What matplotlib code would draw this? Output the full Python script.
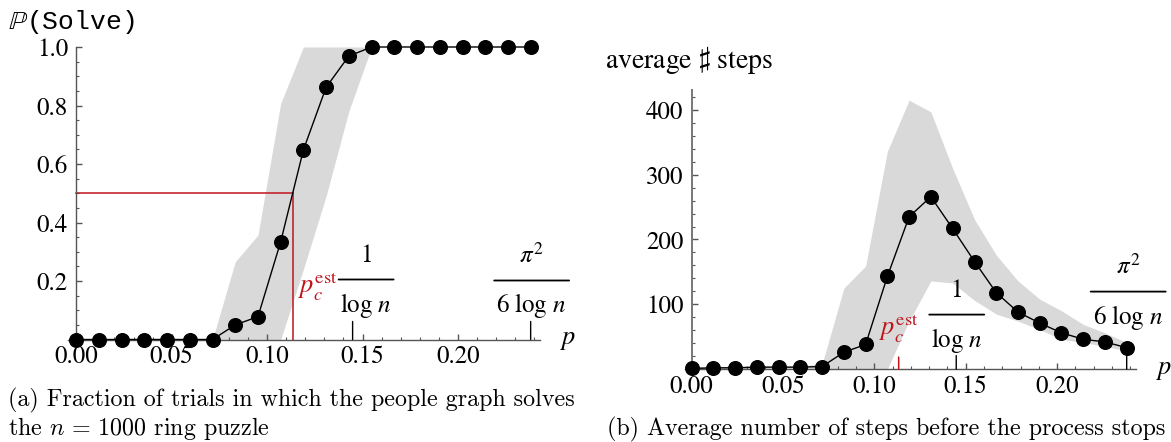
import matplotlib
matplotlib.use("Agg")
import matplotlib.pyplot as plt
import matplotlib.transforms as mtransforms
from matplotlib.ticker import MultipleLocator, FixedLocator, FuncFormatter

plt.rcParams['font.family'] = 'STIXGeneral'
plt.rcParams['mathtext.fontset'] = 'stix'

# ring puzzle, n = 1000
p_inv_log = 0.1448      # 1 / log n
p_pi_log = 0.2381       # pi^2 / (6 log n)
p_c_est = 0.1133

p_vals = [0.0000, 0.0119, 0.0238, 0.0357, 0.0476, 0.0595, 0.0714, 0.0833,
          0.0952, 0.1071, 0.1190, 0.1309, 0.1428, 0.1548, 0.1667, 0.1786,
          0.1905, 0.2024, 0.2143, 0.2262, 0.2381]

# (a) probability of solving
solve_mean = [0, 0, 0, 0, 0, 0, 0, 0.050, 0.078, 0.334, 0.648, 0.862, 0.969,
              1, 1, 1, 1, 1, 1, 1, 1]
solve_low = [0, 0, 0, 0, 0, 0, 0, 0, 0, 0, 0.24, 0.49, 0.78,
             1, 1, 1, 1, 1, 1, 1, 1]
solve_high = [0, 0, 0, 0, 0, 0, 0, 0.266, 0.357, 0.807, 1, 1, 1,
              1, 1, 1, 1, 1, 1, 1, 1]

# (b) average number of steps
steps_mean = [1, 2, 2, 3, 3, 3, 4, 26, 38, 143, 235, 266, 217, 166, 118,
              88, 71, 56, 46, 42, 33]
steps_low = [0, 0, 0, 0, 0, 0, 0, 0, 0, 0, 74, 136, 133, 106, 85, 74, 61,
             46, 41, 35, 28]
steps_high = [3, 4, 4, 5, 5, 5, 8, 125, 159, 336, 415, 397, 310, 231, 176,
              136, 108, 90, 69, 56, 41]

x_major = [0.00, 0.05, 0.10, 0.15, 0.20]
x_labels = ['0.00', '0.05', '0.10', '0.15', '0.20']

W, H = 1171, 442
RED = '#c0141c'
BAND = '#d9d9d9'
AXC = '#555555'

fig = plt.figure(figsize=(W / 100, H / 100), dpi=100)


def px_axes(x0, x1, y0, y1):
    return fig.add_axes([x0 / W, 1 - y1 / H, (x1 - x0) / W, (y1 - y0) / H])


def style_axes(ax):
    for s in ('top', 'right'):
        ax.spines[s].set_visible(False)
    ax.spines['left'].set_position(('data', 0))
    for s in ('left', 'bottom'):
        ax.spines[s].set_color(AXC)
        ax.spines[s].set_linewidth(1.0)
    ax.xaxis.set_major_locator(FixedLocator(x_major))
    ax.set_xticklabels(x_labels)
    ax.xaxis.set_minor_locator(MultipleLocator(0.01))
    ax.tick_params(which='both', direction='in', colors=AXC, labelcolor='black',
                   labelsize=18)
    ax.tick_params(which='major', length=4, width=1)
    ax.tick_params(which='minor', length=2.3, width=0.8)
    ax.tick_params(axis='y', pad=6)
    ax.tick_params(axis='x', pad=4)
    ax.set_facecolor('none')


def tick_mark(ax, x, length, color='black', lw=1.0):
    ax.annotate('', xy=(x, 0), xycoords=ax.get_xaxis_transform(),
                xytext=(0, length), textcoords='offset pixels',
                arrowprops=dict(arrowstyle='-', lw=lw, color=color,
                                shrinkA=0, shrinkB=0),
                annotation_clip=False)


def fraction(ax, x, num, den, bar_dy, halfw, dx=0):
    base = ax.get_xaxis_transform()
    for txt, dy in ((num, bar_dy + 17.5), (den, bar_dy - 32)):
        ax.annotate(txt, xy=(x, 0), xycoords=base, xytext=(dx, dy),
                    textcoords='offset pixels', ha='center', va='baseline',
                    fontsize=18, annotation_clip=False)

    def shifted(px):
        return base + mtransforms.ScaledTranslation(px / fig.dpi, bar_dy / fig.dpi,
                                                    fig.dpi_scale_trans)
    ax.annotate('', xy=(x, 0), xycoords=shifted(dx + halfw),
                xytext=(x, 0), textcoords=shifted(dx - halfw),
                arrowprops=dict(arrowstyle='-', lw=1.3, color='black',
                                shrinkA=0, shrinkB=0),
                annotation_clip=False)


def p_label(ax):
    ax.annotate('$p$', xy=(1, 0), xycoords='axes fraction', xytext=(20, -5),
                textcoords='offset pixels', ha='left', va='baseline',
                fontsize=19, annotation_clip=False)


# ---------------- (a) ----------------
ax1 = px_axes(68, 540, 47, 339.5)
ax1.set_xlim(-0.00435, 0.2430)
ax1.set_ylim(0, 1.0)
style_axes(ax1)
ax1.yaxis.set_major_locator(FixedLocator([0.2, 0.4, 0.6, 0.8, 1.0]))
ax1.yaxis.set_major_formatter(FuncFormatter(lambda v, i: f'{v:.1f}'))
ax1.yaxis.set_minor_locator(MultipleLocator(0.05))

ax1.fill_between(p_vals, solve_low, solve_high, color=BAND, lw=0, zorder=1)
ax1.plot([0, p_c_est], [0.5, 0.5], color=RED, lw=1.1, zorder=2)
ax1.plot([p_c_est, p_c_est], [0, 0.5], color=RED, lw=1.1, zorder=2)
ax1.plot(p_vals, solve_mean, color='black', lw=1.0, marker='o', ms=9.8,
         mfc='black', mec='black', clip_on=False, zorder=3)

tick_mark(ax1, p_inv_log, 18)
tick_mark(ax1, p_pi_log, 18)
fraction(ax1, p_inv_log, '1', r'$\log\,n$', 60, 27.5, dx=13.5)
fraction(ax1, p_pi_log, r'$\pi^2$', r'$6\ \log\,n$', 59, 37.5, dx=1)
ax1.annotate(r'$p_c^{\mathrm{est}}$', xy=(p_c_est, 0), xycoords=ax1.get_xaxis_transform(),
             xytext=(5, 46.5), textcoords='offset pixels', ha='left', va='baseline',
             fontsize=19, color=RED, annotation_clip=False)
p_label(ax1)

# ---------------- (b) ----------------
ax2 = px_axes(685, 1136, 90, 369.1)
ax2.set_xlim(-0.00367, 0.2432)
ax2.set_ylim(0, 430.7)
style_axes(ax2)
ax2.spines['left'].set_color('#777777')
ax2.spines['left'].set_linewidth(1.4)
ax2.yaxis.set_major_locator(FixedLocator([100, 200, 300, 400]))
ax2.yaxis.set_major_formatter(FuncFormatter(lambda v, i: f'{v:.0f}'))
ax2.yaxis.set_minor_locator(MultipleLocator(20))

ax2.fill_between(p_vals, steps_low, steps_high, color=BAND, lw=0, zorder=1)
ax2.plot(p_vals, steps_mean, color='black', lw=1.0, marker='o', ms=9.8,
         mfc='black', mec='black', clip_on=False, zorder=3)

tick_mark(ax2, p_c_est, 12, color=RED, lw=1.1)
tick_mark(ax2, p_inv_log, 13.5)
tick_mark(ax2, p_pi_log, 13.5)
fraction(ax2, p_inv_log, '1', r'$\log\,n$', 54.5, 27.5, dx=0.5)
fraction(ax2, p_pi_log, r'$\pi^2$', r'$6\ \log\,n$', 77.5, 37.5, dx=1.5)
ax2.annotate(r'$p_c^{\mathrm{est}}$', xy=(p_c_est, 0), xycoords=ax2.get_xaxis_transform(),
             xytext=(0, 34.5), textcoords='offset pixels', ha='center', va='baseline',
             fontsize=19, color=RED, annotation_clip=False)
p_label(ax2)

# ---------------- titles / captions ----------------
fig.text(8 / W, 1 - 28.5 / H, r'$\mathbb{P}$(Solve)', family='Liberation Mono',
         fontsize=19, va='baseline')
fig.text(605 / W, 1 - 68.3 / H, r'average $\sharp$ steps', fontsize=20, va='baseline')

cap = dict(family='cmr10', math_fontfamily='cm', fontsize=17.3, va='baseline')
fig.text(8 / W, 1 - 406 / H, '(a) Fraction of trials in which the people graph solves', **cap)
fig.text(8 / W, 1 - 435.5 / H, r'the $n\,=\,1000$ ring puzzle', **cap)
fig.text(606.7 / W, 1 - 435 / H, '(b) Average number of steps before the process stops', **cap)

fig.savefig('out.png', dpi=100)
